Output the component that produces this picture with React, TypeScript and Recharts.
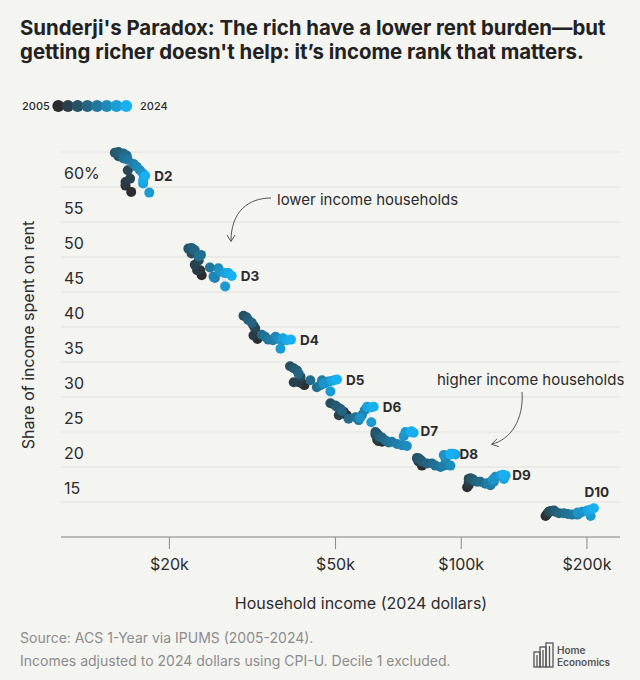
import type { JSX } from "react";
import { ScatterChart, Scatter, XAxis, YAxis, CartesianGrid } from "recharts";

// ACS 1-Year via IPUMS. Income in $k (2024 dollars), share in %.
const years = [
  2005, 2006, 2007, 2008, 2009, 2010, 2011, 2012, 2013, 2014,
  2015, 2016, 2017, 2018, 2019, 2020, 2021, 2022, 2023, 2024,
];
const deciles = ["D2", "D3", "D4", "D5", "D6", "D7", "D8", "D9", "D10"];

const d2Income = [16.2, 15.7, 15.7, 16.1, 15.9, 15.1, 14.8, 15.1, 15.5, 15.8, 15.5, 15.9, 16.4, 16.7, 17.0, 17.3, 17.9, 17.3, 17.3, 17.5];
const d2Share = [59.3, 60.2, 60.7, 61.2, 62.4, 64.4, 64.9, 65.0, 64.8, 64.5, 64.1, 63.9, 63.3, 62.9, 62.4, 61.9, 59.2, 60.5, 61.0, 61.6];
const d3Income = [23.9, 23.7, 23.3, 23.0, 23.5, 22.6, 22.2, 22.6, 23.0, 23.8, 23.5, 25.0, 25.7, 25.5, 26.2, 26.5, 27.2, 27.2, 27.7, 28.2];
const d3Share = [47.4, 48.1, 48.1, 48.9, 49.5, 50.5, 51.2, 51.3, 51.0, 50.3, 50.1, 48.5, 47.0, 47.2, 48.4, 47.9, 45.8, 47.7, 47.7, 47.3];
const d4Income = [32.5, 33.0, 31.8, 32.1, 31.8, 30.1, 30.6, 30.9, 31.5, 33.3, 33.9, 34.5, 35.4, 35.9, 36.5, 37.4, 36.9, 37.4, 38.2, 39.1];
const d4Share = [38.3, 38.8, 38.8, 39.8, 40.2, 41.6, 41.4, 41.0, 40.6, 38.9, 38.6, 38.2, 38.1, 38.6, 38.3, 38.1, 36.9, 38.4, 38.1, 38.2];
const d5Income = [42.1, 41.7, 40.8, 39.7, 41.2, 38.9, 39.7, 40.4, 40.8, 43.5, 45.1, 46.0, 46.4, 47.2, 48.1, 46.8, 48.6, 48.9, 49.6, 50.4];
const d5Share = [31.7, 31.9, 32.1, 32.1, 32.9, 34.4, 34.1, 33.8, 33.3, 32.4, 31.4, 31.7, 32.4, 32.0, 32.2, 31.9, 30.8, 32.3, 32.4, 32.5];
const d6Income = [53.2, 52.3, 51.3, 50.9, 51.3, 48.6, 49.9, 50.4, 51.8, 53.7, 55.8, 56.8, 57.8, 58.7, 59.5, 57.2, 60.9, 59.5, 60.6, 61.7];
const d6Share = [27.4, 27.9, 27.6, 27.4, 28.3, 29.1, 28.8, 28.6, 28.0, 26.9, 27.1, 26.7, 27.4, 28.1, 28.5, 27.0, 26.4, 28.6, 28.5, 28.6];
const d7Income = [64.6, 63.4, 62.9, 63.4, 62.3, 62.3, 62.8, 63.6, 64.6, 65.8, 67.0, 68.2, 70.2, 72.1, 74.1, 72.8, 73.5, 75.5, 76.9, 76.0];
const d7Share = [23.6, 23.7, 23.9, 24.5, 24.6, 25.0, 24.8, 24.3, 24.2, 23.8, 23.5, 23.6, 23.3, 23.1, 23.0, 24.4, 25.0, 25.0, 24.9, 25.1];
const d8Income = [80.5, 79.9, 79.0, 79.9, 78.4, 78.4, 79.2, 80.5, 82.8, 85.1, 86.7, 89.2, 90.8, 91.7, 94.2, 90.8, 94.2, 96.9, 95.5, 94.2];
const d8Share = [20.2, 20.6, 20.8, 21.0, 21.2, 21.3, 21.2, 20.8, 20.5, 20.5, 20.2, 20.0, 20.2, 21.2, 20.2, 21.7, 21.9, 21.8, 21.9, 21.8];
const d9Income = [103.3, 104.2, 104.2, 104.7, 104.2, 105.2, 106.2, 107.5, 109.1, 111.2, 114.3, 117.5, 116.0, 119.7, 120.8, 119.0, 124.2, 126.5, 127.7, 126.0];
const d9Share = [17.1, 17.4, 17.8, 18.1, 18.3, 18.4, 18.3, 18.0, 17.9, 17.9, 17.6, 17.4, 17.7, 17.9, 18.6, 18.2, 18.8, 18.3, 18.8, 18.9];
const d10Income = [159.2, 160.7, 162.2, 164.0, 162.2, 164.5, 166.7, 168.0, 171.4, 176.1, 180.0, 184.4, 189.6, 192.0, 194.9, 190.0, 204.1, 200.3, 204.0, 207.8];
const d10Share = [13.0, 13.3, 13.6, 13.7, 13.6, 13.7, 13.8, 13.6, 13.4, 13.4, 13.3, 13.2, 13.2, 13.4, 13.6, 13.5, 13.0, 13.8, 13.9, 14.1];

const incomeByDecile = [d2Income, d3Income, d4Income, d5Income, d6Income, d7Income, d8Income, d9Income, d10Income];
const shareByDecile = [d2Share, d3Share, d4Share, d5Share, d6Share, d7Share, d8Share, d9Share, d10Share];

const xTicks = [20, 50, 100, 200];
const yTicks = [15, 20, 25, 30, 35, 40, 45, 50, 55, 60];

const BG = "#f4f4f1";
const INK = "#2b2b2b";
const FONT = "Inter, 'Noto Sans', sans-serif";

// dark grey (2005) -> bright blue (2024)
const DARK = [44, 44, 46];
const BRIGHT = [24, 176, 242];
const yearColor = (t: number): string => {
  const c = DARK.map((d, k) => Math.round(d + (BRIGHT[k] - d) * t));
  return `rgb(${c[0]}, ${c[1]}, ${c[2]})`;
};

const pointsByYear = years.map((year, i) =>
  deciles.map((name, d) => ({
    income: incomeByDecile[d][i],
    share: shareByDecile[d][i],
    decile: name,
    year,
  })),
);

const pathByDecile = deciles.map((name, d) =>
  years.map((year, i) => ({ income: incomeByDecile[d][i], share: shareByDecile[d][i], year })),
);

const makeDot = (color: string, withLabel: boolean) => (p: any) => {
  const isTop = p.payload?.decile === "D10";
  return (
    <g>
      <circle cx={p.cx} cy={p.cy} r={5} fill={color} />
      {withLabel && (
        <text
          x={isTop ? p.cx + 3 : p.cx + 9}
          y={isTop ? p.cy - 16 : p.cy}
          textAnchor={isTop ? "middle" : "start"}
          dominantBaseline="central"
          fontSize={13.5}
          fontWeight={700}
          fill={INK}
        >
          {p.payload?.decile}
        </text>
      )}
    </g>
  );
};

const renderYTick = (props: any) => (
  <text
    x={props.x}
    y={props.y - 14}
    textAnchor="start"
    dominantBaseline="central"
    fontSize={16}
    fill={INK}
    fontFamily={FONT}
  >
    {props.payload.value === 60 ? "60%" : props.payload.value}
  </text>
);

const Logo = (): JSX.Element => (
  <g stroke="#555" fill="none" strokeWidth={1.3}>
    <rect x={534} y={652} width={6} height={15} />
    <rect x={540} y={647} width={6} height={20} />
    <rect x={546} y={643} width={7} height={24} />
    <line x1={537} y1={655} x2={537} y2={667} />
    <line x1={543} y1={650} x2={543} y2={667} />
    <line x1={549.5} y1={646} x2={549.5} y2={667} />
  </g>
);

export default function App(): JSX.Element {
  const last = years.length - 1;
  return (
    <div
      style={{
        position: "absolute",
        left: 0,
        top: 0,
        width: 640,
        height: 680,
        background: BG,
        fontFamily: FONT,
        overflow: "hidden",
      }}
    >
      <ScatterChart
        width={640}
        height={680}
        margin={{ top: 152, right: 20, bottom: 103, left: 61 }}
        style={{ fontFamily: FONT }}
      >
        <CartesianGrid vertical={false} stroke="#e0e0dc" strokeWidth={1} />
        <XAxis
          type="number"
          dataKey="income"
          scale="log"
          domain={[11, 240]}
          ticks={xTicks}
          tickFormatter={(v: number) => `$${v}k`}
          height={40}
          axisLine={{ stroke: "#8a8a8a" }}
          tickLine={{ stroke: "#8a8a8a" }}
          tickSize={12}
          tickMargin={10}
          tick={{ fontSize: 16, fill: INK }}
        />
        <YAxis
          type="number"
          dataKey="share"
          domain={[10, 65]}
          ticks={yTicks}
          interval={0}
          width={1}
          mirror
          axisLine={false}
          tickLine={false}
          tickSize={0}
          tickMargin={3}
          tick={renderYTick}
        />
        {pathByDecile.map((data, d) => (
          <Scatter
            key={`path-${deciles[d]}`}
            data={data}
            line={{ stroke: "#d6d9db", strokeWidth: 1 }}
            shape={() => <g />}
            isAnimationActive={false}
          />
        ))}
        {pointsByYear.map((data, i) => (
          <Scatter
            key={years[i]}
            name={String(years[i])}
            data={data}
            shape={makeDot(yearColor(i / last), i === last)}
            isAnimationActive={false}
          />
        ))}
      </ScatterChart>

      <svg
        width={640}
        height={680}
        style={{ position: "absolute", left: 0, top: 0, pointerEvents: "none", fontFamily: FONT }}
      >
        <text x={20} y={27} fontSize={20.4} fontWeight={700} fill="#222" dominantBaseline="central">
          Sunderji's Paradox: The rich have a lower rent burden—but
        </text>
        <text x={20} y={51} fontSize={20.4} fontWeight={700} fill="#222" dominantBaseline="central">
          getting richer doesn't help: it’s income rank that matters.
        </text>

        <text x={22} y={106} fontSize={11} fontWeight={500} fill={INK} dominantBaseline="central">
          2005
        </text>
        {[0, 1, 2, 3, 4, 5, 6, 7].map((k) => (
          <circle key={k} cx={58.3 + k * 9.7} cy={106} r={6} fill={yearColor(k / 7)} />
        ))}
        <text x={140} y={106} fontSize={11} fontWeight={500} fill={INK} dominantBaseline="central">
          2024
        </text>

        <text
          transform="translate(28, 335) rotate(-90)"
          textAnchor="middle"
          dominantBaseline="central"
          fontSize={16}
          fill={INK}
        >
          Share of income spent on rent
        </text>
        <text x={361} y={603} textAnchor="middle" dominantBaseline="central" fontSize={16} fill={INK}>
          Household income (2024 dollars)
        </text>

        <text x={277} y={199} dominantBaseline="central" fontSize={15} fill={INK}>
          lower income households
        </text>
        <g stroke="#555" fill="none" strokeWidth={1}>
          <path d="M 271 198 C 248 198 231 212 231 241" />
          <path d="M 227 235 L 231 241.5 L 235 235" />
        </g>
        <text x={437} y={379} dominantBaseline="central" fontSize={15} fill={INK}>
          higher income households
        </text>
        <g stroke="#555" fill="none" strokeWidth={1}>
          <path d="M 522 392 C 524 420 510 440 492 444" />
          <path d="M 497 438.8 L 491.5 444.2 L 498.7 446.6" />
        </g>

        <text x={20} y={637} dominantBaseline="central" fontSize={14} fill="#8c8c8c">
          Source: ACS 1-Year via IPUMS (2005-2024).
        </text>
        <text x={20} y={660} dominantBaseline="central" fontSize={14} fill="#8c8c8c">
          Incomes adjusted to 2024 dollars using CPI-U. Decile 1 excluded.
        </text>
        <Logo />
        <text x={557} y={650} dominantBaseline="central" fontSize={10} fontWeight={600} fill="#555">
          Home
        </text>
        <text x={557} y={662} dominantBaseline="central" fontSize={10} fontWeight={600} fill="#555">
          Economics
        </text>
      </svg>
    </div>
  );
}
